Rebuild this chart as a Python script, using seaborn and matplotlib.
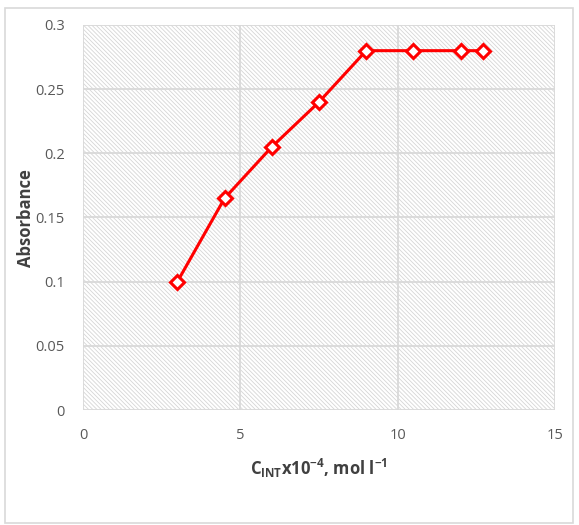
import matplotlib
matplotlib.use("Agg")
import matplotlib.pyplot as plt
import seaborn as sns
import pandas as pd
from matplotlib.patches import Rectangle

conc = [3, 4.5, 6, 7.5, 9, 10.5, 12, 12.7]
absorbance = [0.1, 0.165, 0.205, 0.24, 0.28, 0.28, 0.28, 0.28]
xticks = [0, 5, 10, 15]
yticks = [0, 0.05, 0.1, 0.15, 0.2, 0.25, 0.3]

sns.set_theme(style="white")
plt.rcParams['font.family'] = ['Open Sans', 'DejaVu Sans']
plt.rcParams['mathtext.fontset'] = 'custom'
plt.rcParams['mathtext.rm'] = 'Open Sans'
plt.rcParams['mathtext.bf'] = 'Open Sans:bold'
plt.rcParams['hatch.linewidth'] = 0.6
plt.rcParams['hatch.color'] = '#d6d6d6'

fig = plt.figure(figsize=(5.79, 5.25), dpi=100)
fig.patches.append(Rectangle((5/579, 2/525), 568/579, 515/525, transform=fig.transFigure,
                             fill=False, edgecolor='#d9d9d9', linewidth=1.2))
ax = fig.add_axes([83/579, 1 - 410/525, 472/579, 385/525])

ax.add_patch(Rectangle((0, 0), 1, 1, transform=ax.transAxes, facecolor='white',
                       edgecolor='#d6d6d6', hatch='\\' * 8, linewidth=0, zorder=0))

df = pd.DataFrame({'c': conc, 'a': absorbance})
sns.lineplot(data=df, x='c', y='a', ax=ax, color='#ff0000', linewidth=2.2,
             marker='D', markersize=7, markerfacecolor='white',
             markeredgecolor='#ff0000', markeredgewidth=2.2, zorder=5)

ax.set_xlim(0, 15)
ax.set_ylim(0, 0.3)
ax.set_xticks(xticks)
ax.set_yticks(yticks)
ax.set_xticklabels([str(t) for t in xticks])
ax.set_yticklabels(['0', '0.05', '0.1', '0.15', '0.2', '0.25', '0.3'])
ax.grid(True, color='#d9d9d9', linewidth=1.3)
ax.set_axisbelow(True)
for s in ax.spines.values():
    s.set_visible(False)
ax.tick_params(axis='both', length=0, labelsize=10.5, colors='#595959')
ax.tick_params(axis='x', pad=13)
ax.tick_params(axis='y', pad=13)

ax.set_xlabel(r'C$_{\mathbf{INT}}$x10$^{\mathbf{-4}}$, mol l$^{\mathbf{-1}}$', fontsize=12,
              fontweight='bold', color='#404040', labelpad=10)
ax.set_ylabel('')
fig.text(26/579, 1 - 218/525, 'Absorbance', rotation=90, ha='center', va='center',
         fontsize=12, fontweight='bold', color='#404040')

fig.savefig('out.png', dpi=100)
